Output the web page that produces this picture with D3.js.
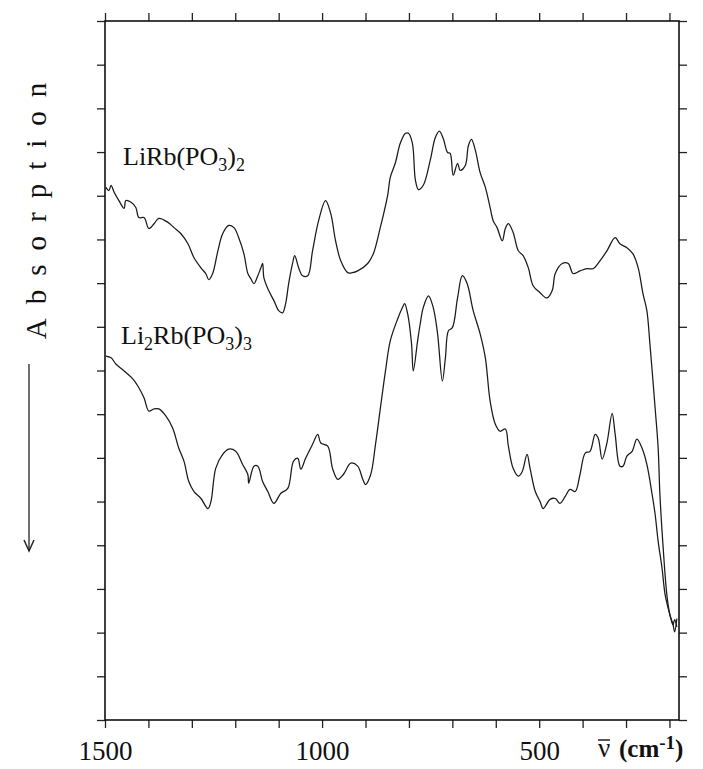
<!DOCTYPE html>
<html>
<head>
<meta charset="utf-8">
<script src="https://cdn.jsdelivr.net/npm/d3@7"></script>
<style>
	body { margin: 0; background: #fff; }
	svg text { font-family: 'Liberation Serif', 'DejaVu Serif', serif; fill: #111; }
</style>
</head>
<body>
<div id="chart"></div>
<script>
// wavenumber (cm-1)
const wnA = [1498, 1491, 1486, 1479, 1468, 1456, 1452, 1440, 1429, 1422, 1410, 1399, 1387, 1376, 1355, 1341, 1325, 1309, 1295, 1279, 1268, 1261, 1252, 1240, 1229, 1215, 1203, 1192, 1180, 1171, 1164, 1157, 1148, 1141, 1137, 1134, 1123, 1111, 1100, 1091, 1084, 1077, 1068, 1063, 1054, 1045, 1033, 1022, 1008, 992, 980, 969, 957, 941, 930, 918, 895, 882, 866, 849, 843, 831, 820, 808, 801, 792, 785, 778, 767, 751, 739, 730, 721, 711, 705, 698, 688, 682, 670, 663, 656, 647, 636, 624, 613, 606, 597, 585, 578, 571, 560, 548, 537, 525, 514, 498, 482, 470, 463, 447, 433, 422, 406, 390, 376, 360, 344, 325, 314, 298, 284, 272, 261, 252, 245, 233, 226, 222, 215, 206, 199, 192, 188, 183]
// LiRb(PO3)2, relative transmission (one unit per tick)
const trA = [12.19, 12.12, 12.24, 12.08, 11.89, 11.71, 11.89, 11.85, 11.73, 11.5, 11.5, 11.25, 11.36, 11.48, 11.39, 11.27, 11.13, 10.9, 10.58, 10.35, 10.22, 10.08, 10.22, 10.74, 11.13, 11.32, 11.27, 11.04, 10.67, 10.22, 10.1, 9.99, 10.17, 10.35, 10.45, 10.12, 9.83, 9.6, 9.37, 9.32, 9.53, 9.99, 10.45, 10.63, 10.35, 10.17, 10.17, 10.74, 11.43, 11.89, 11.59, 10.97, 10.51, 10.24, 10.24, 10.28, 10.45, 10.67, 11.27, 12.01, 12.42, 12.76, 13.2, 13.43, 13.43, 13.2, 12.35, 12.14, 12.24, 12.81, 13.34, 13.48, 13.31, 12.99, 12.97, 12.47, 12.74, 12.58, 12.7, 13.15, 13.29, 13.04, 12.53, 12.19, 11.73, 11.43, 11.27, 10.97, 11.25, 11.36, 11.16, 10.74, 10.63, 10.35, 9.94, 9.78, 9.66, 9.83, 10.22, 10.45, 10.45, 10.22, 10.28, 10.33, 10.33, 10.51, 10.74, 11.04, 10.9, 10.81, 10.67, 10.35, 9.76, 9.37, 8.61, 7.14, 6.22, 5.17, 4.02, 2.87, 2.41, 2.2, 2.02, 2.32]

const wnB = [1498, 1486, 1475, 1456, 1436, 1424, 1410, 1399, 1387, 1376, 1360, 1344, 1330, 1318, 1307, 1295, 1279, 1263, 1256, 1245, 1229, 1215, 1199, 1183, 1171, 1169, 1157, 1148, 1137, 1125, 1111, 1095, 1079, 1066, 1056, 1049, 1038, 1022, 1010, 1003, 987, 976, 964, 951, 934, 918, 907, 900, 888, 877, 866, 854, 843, 826, 815, 810, 803, 794, 790, 780, 774, 767, 755, 744, 734, 723, 716, 709, 700, 688, 677, 666, 652, 636, 624, 613, 601, 590, 578, 571, 560, 548, 539, 528, 521, 509, 498, 491, 475, 463, 452, 440, 429, 417, 406, 394, 383, 371, 364, 355, 344, 332, 325, 314, 307, 298, 286, 275, 263, 252, 240, 233, 226, 217, 210, 199, 192, 188, 183]
// Li2Rb(PO3)3
const trB = [8.33, 8.29, 8.15, 7.99, 7.81, 7.64, 7.37, 7.07, 7.12, 7.12, 6.96, 6.68, 6.22, 5.92, 5.46, 5.23, 5.07, 4.84, 5.0, 5.76, 6.08, 6.2, 6.15, 5.85, 5.62, 5.42, 5.81, 5.81, 5.46, 5.23, 4.96, 5.19, 5.3, 5.92, 5.99, 5.74, 5.99, 6.31, 6.54, 6.34, 6.27, 5.76, 5.51, 5.62, 5.88, 5.81, 5.53, 5.39, 5.62, 6.31, 7.12, 7.99, 8.68, 9.18, 9.44, 9.53, 9.3, 8.61, 7.99, 8.68, 9.07, 9.44, 9.71, 9.44, 8.84, 7.76, 8.29, 8.91, 8.98, 9.66, 10.17, 9.99, 9.37, 8.84, 8.29, 7.3, 6.77, 6.61, 6.66, 6.27, 5.76, 5.58, 5.69, 6.08, 5.76, 5.23, 5.0, 4.84, 5.05, 5.07, 4.96, 5.12, 5.28, 5.23, 5.62, 6.11, 6.15, 6.54, 6.45, 5.97, 6.34, 7.02, 6.54, 5.81, 5.81, 6.04, 6.15, 6.43, 6.22, 5.85, 5.17, 4.71, 4.09, 3.47, 2.87, 2.41, 2.18, 2.3, 2.13]

const xTicks = d3.range(1500, 199, -100)
const xLabels = [1500, 1000, 500]
const yTicks = d3.range(0, 17)

const width = 703
const height = 769
const margin = { top: 21, right: 24, bottom: 49, left: 105 }

const svg = d3.select('#chart').append('svg').attr('width', width).attr('height', height)

const x = d3.scaleLinear().domain([1500, 178]).range([margin.left, width - margin.right])
const y = d3.scaleLinear().domain([0, 16]).range([height - margin.bottom, margin.top])

// axes, all ticks pointing outward
const tickLen = 8
svg.append('g')
	.attr('transform', `translate(0,${y(0)})`)
	.call(d3.axisBottom(x).tickValues(xTicks).tickSize(tickLen).tickSizeOuter(0).tickPadding(13)
		.tickFormat((d) => (xLabels.includes(d) ? d : '')))
	.call((g) => g.select('.domain').remove())
	.call((g) => g.selectAll('text').attr('font-size', 27).attr('font-family', 'Liberation Serif').attr('fill', '#111'))
svg.append('g')
	.attr('transform', `translate(0,${y(16)})`)
	.call(d3.axisTop(x).tickValues(xTicks).tickSize(tickLen).tickSizeOuter(0).tickFormat(''))
	.call((g) => g.select('.domain').remove())
svg.append('g')
	.attr('transform', `translate(${x(1500)},0)`)
	.call(d3.axisLeft(y).tickValues(yTicks).tickSize(tickLen).tickSizeOuter(0).tickFormat(''))
	.call((g) => g.select('.domain').remove())
svg.append('g')
	.attr('transform', `translate(${x(178)},0)`)
	.call(d3.axisRight(y).tickValues(yTicks).tickSize(tickLen).tickSizeOuter(0).tickFormat(''))
	.call((g) => g.select('.domain').remove())
svg.selectAll('.tick line').attr('stroke', '#222').attr('stroke-width', 1.3)

// frame
svg.append('rect')
	.attr('x', x(1500))
	.attr('y', y(16))
	.attr('width', x(178) - x(1500))
	.attr('height', y(0) - y(16))
	.attr('fill', 'none')
	.attr('stroke', '#111')
	.attr('stroke-width', 1.6)

// spectra
const line = d3.line()
	.x((d) => x(d[0]))
	.y((d) => y(d[1]))
	.curve(d3.curveCatmullRom.alpha(0.5))

const spectra = [d3.zip(wnA, trA), d3.zip(wnB, trB)]
svg.selectAll('path.spectrum')
	.data(spectra)
	.enter()
	.append('path')
	.attr('class', 'spectrum')
	.attr('d', line)
	.attr('fill', 'none')
	.attr('stroke', '#1a1a1a')
	.attr('stroke-width', 1.25)

// curve labels, subscripts dropped and the following text lifted back
function formula(parts, px, py) {
	const t = svg.append('text').attr('x', px).attr('y', py).attr('font-size', 26)
	let shifted = false
	parts.forEach((p) => {
		if (p.sub) {
			t.append('tspan').attr('font-size', 18).attr('dy', 6).text(p.sub)
			shifted = true
		} else {
			t.append('tspan').attr('dy', shifted ? -6 : 0).text(p.txt)
			shifted = false
		}
	})
}
formula([{ txt: 'LiRb(PO' }, { sub: '3' }, { txt: ')' }, { sub: '2' }], 123, 165)
formula([{ txt: 'Li' }, { sub: '2' }, { txt: 'Rb(PO' }, { sub: '3' }, { txt: ')' }, { sub: '3' }], 121, 344)

// y axis title with downward arrow
svg.append('text')
	.attr('transform', 'translate(46,204) rotate(-90)')
	.attr('text-anchor', 'middle')
	.attr('font-size', 29)
	.attr('letter-spacing', '14px')
	.text('Absorption')
svg.append('line')
	.attr('x1', 29).attr('x2', 29)
	.attr('y1', 364).attr('y2', 551)
	.attr('stroke', '#222')
	.attr('stroke-width', 1.3)
svg.append('path')
	.attr('d', 'M24,540 L29,551 L34,540')
	.attr('fill', 'none')
	.attr('stroke', '#222')
	.attr('stroke-width', 1.5)

// x axis title: nu with a bar, then bold unit
svg.append('text').attr('x', 604).attr('y', 757).attr('font-size', 27).attr('text-anchor', 'middle').text('\u03BD')
svg.append('line')
	.attr('x1', 598).attr('x2', 610)
	.attr('y1', 740).attr('y2', 740)
	.attr('stroke', '#111')
	.attr('stroke-width', 1.4)
const xt = svg.append('text').attr('x', 619).attr('y', 757).attr('font-size', 25).attr('font-weight', 'bold')
xt.append('tspan').text('(cm')
xt.append('tspan').attr('font-size', 19).attr('dy', -8).text('-1')
xt.append('tspan').attr('dy', 8).text(')')
</script>
</body>
</html>
